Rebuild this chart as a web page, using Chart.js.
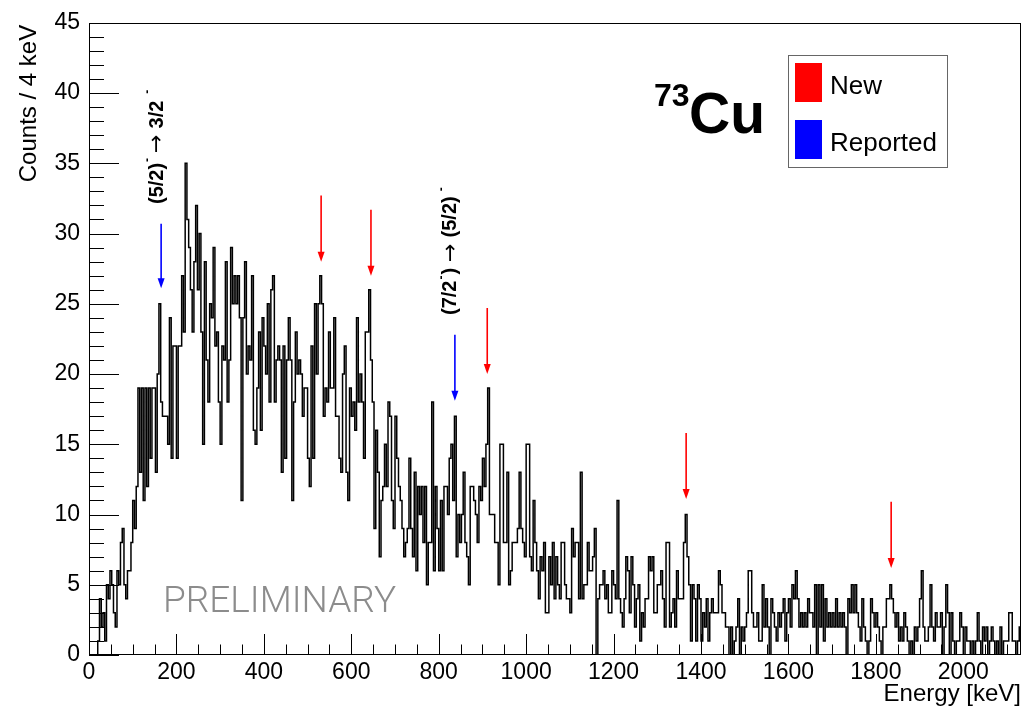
<!DOCTYPE html>
<html>
<head>
<meta charset="utf-8">
<script src="https://cdn.jsdelivr.net/npm/chart.js@4.4.1/dist/chart.umd.min.js"></script>
<style>
  html, body { margin: 0; padding: 0; background: #ffffff; }
  #wrap { width: 1024px; height: 709px; }
</style>
</head>
<body>
<div id="wrap"><canvas id="c" width="1024" height="709"></canvas></div>
<script>
// ---------- DATA ----------
const BIN_WIDTH = 4; // keV per bin
// counts per 4 keV bin, split by energy range (bin low edges)
const counts_0000_0268 = [
  0,0,0,0,0,1,
  4,2,3,1,5,4,6,5,3,2,
  6,5,8,9,5,4,6,6,8,11,
  9,12,19,13,19,11,19,12,19,14,
  19,19,13,20,25,18,17,17,17,15,
  24,14,22,22,14,22,22,27,23,35,
  31,29,26,23,28,32,26,30,23,15,
  28,21
];
const counts_0272_0524 = [
  18,25,24,29,22,23,18,15,22,21,
  28,18,21,29,25,27,25,27,24,11,
  24,28,20,22,21,27,16,15,19,23,
  16,24,22,20,25,18,26,27,18,21,
  22,21,13,22,14,21,24,21,11,18,
  23,20,21,20,17,19,19,14,12,22,
  14,25,20,25
];
const counts_0528_0784 = [
  27,25,17,19,18,23,19,19,24,17,
  17,14,13,20,22,13,11,19,17,18,
  16,24,18,20,18,14,23,23,26,21,
  18,9,16,13,7,11,12,15,12,18,
  17,11,9,17,14,12,11,9,7,8,
  9,14,9,7,13,6,12,10,12,8,
  12,5,8,8,18
];
const counts_0788_1060 = [
  6,12,9,6,11,6,12,12,10,14,
  15,11,17,7,10,8,10,13,8,7,
  5,12,12,11,10,8,12,11,14,12,
  15,19,10,10,10,8,8,5,15,15,
  8,8,13,5,6,8,8,8,9,13,
  9,8,7,15,15,7,6,11,8,6,
  4,7,6,8,3,3,7,5,8
];
const counts_1064_1320 = [
  4,7,5,4,8,8,5,4,4,3,
  9,7,8,8,4,13,4,5,5,8,
  6,6,7,9,0,4,5,5,6,4,
  5,3,3,6,5,4,11,4,3,2,
  4,7,6,3,7,5,2,4,5,1,
  3,2,4,4,7,6,7,3,3,5,
  5,6,4,2,8
];
const counts_1324_1584 = [
  8,2,3,4,2,6,4,4,4,8,
  10,7,5,1,5,4,1,5,4,1,
  3,2,4,1,3,4,3,3,3,6,
  5,3,3,2,2,0,2,0,1,2,
  4,0,2,1,2,3,6,6,3,2,
  2,3,1,1,5,2,4,2,0,4,
  3,2,1,3,2,3
];
const counts_1588_1848 = [
  4,1,3,4,2,5,4,6,4,2,
  3,2,3,2,4,3,3,2,5,0,
  5,2,5,1,4,2,3,2,3,2,
  4,2,3,2,3,2,0,4,3,5,
  3,5,3,2,1,4,2,1,0,1,
  4,3,2,3,2,1,0,2,2,4,
  4,5,4,3,2,3
];
const counts_1852_2128 = [
  1,2,1,3,2,1,0,1,0,2,
  1,2,4,6,2,1,1,2,5,2,
  1,3,2,2,3,0,2,5,3,0,
  3,1,0,1,1,3,2,0,2,1,
  1,0,1,0,1,3,1,0,2,1,
  2,0,1,2,1,0,1,0,2,0,
  1,1,1,3,3,1,1,0,1,2
];

const xTickValues = [0,200,400,600,800,1000,1200,1400,1600,1800,2000];
const yTickValues = [0,5,10,15,20,25,30,35,40,45];
const X_MAX = 2132, Y_MAX = 45;

// annotation arrows: energy (keV), arrow top and tip (counts), kind
const arrowEnergy = [165, 531, 645, 837, 911, 1366, 1835];
const arrowTop    = [30.7, 32.7, 31.7, 22.8, 24.7, 15.8, 10.9];
const arrowTip    = [26.1, 28.0, 27.0, 18.1, 20.0, 11.1, 6.2];
const arrowKind   = ['Reported','New','New','Reported','New','New','New'];
const kindColor   = { New: '#ff0000', Reported: '#0000ff' };
const legendLabels = ['New', 'Reported'];

// ---------- BUILD ----------
const counts = [].concat(counts_0000_0268, counts_0272_0524, counts_0528_0784,
  counts_0788_1060, counts_1064_1320, counts_1324_1584, counts_1588_1848, counts_1852_2128);
const points = counts.map((c, i) => ({ x: i * BIN_WIDTH, y: c }));
points.push({ x: counts.length * BIN_WIDTH, y: counts[counts.length - 1] });

const FONT = '"Liberation Sans", Arial, Helvetica, sans-serif';

function richRotated(ctx, x, y, segs) {
  ctx.save();
  ctx.translate(x, y);
  ctx.rotate(-Math.PI / 2);
  ctx.textBaseline = 'middle';
  ctx.textAlign = 'left';
  let cx = 0;
  for (const s of segs) {
    ctx.font = s.font;
    ctx.fillStyle = '#000';
    ctx.fillText(s.t, cx, s.dy || 0);
    cx += ctx.measureText(s.t).width + (s.gap || 0);
  }
  ctx.restore();
}

const B20 = 'bold 20px ' + FONT;
const SUP = 'bold 12px ' + FONT;
const ARR = '22px "DejaVu Sans", ' + FONT;
const annotationLabels = [
  { arrow: 0, segs: [
    { t: '(5/2)', font: B20, gap: 1 }, { t: '-', font: SUP, dy: -9, gap: 5 },
    { t: '\u2192', font: ARR, gap: 6 },
    { t: '3/2', font: B20, gap: 7 }, { t: '-', font: SUP, dy: -9 } ] },
  { arrow: 3, segs: [
    { t: '(7/2', font: B20, gap: 1 }, { t: '-', font: SUP, dy: -9, gap: 1 }, { t: ')', font: B20, gap: 6 },
    { t: '\u2192', font: ARR, gap: 6 },
    { t: '(5/2)', font: B20, gap: 5 }, { t: '-', font: SUP, dy: -9 } ] }
];

const decor = {
  id: 'decor',
  afterDraw(chart) {
    const ctx = chart.ctx;
    const xs = chart.scales.x, ys = chart.scales.y;
    const a = chart.chartArea;
    ctx.save();
    // frame
    ctx.strokeStyle = '#000';
    ctx.lineWidth = 1;
    ctx.strokeRect(Math.round(a.left) + 0.5, Math.round(a.top) + 0.5,
                   Math.round(a.right - a.left) - 1, Math.round(a.bottom - a.top) - 1);
    // x ticks (inside)
    ctx.beginPath();
    for (let v = 0; v <= X_MAX; v += 50) {
      const px = Math.round(xs.getPixelForValue(v)) + 0.5;
      const len = (v % 200 === 0) ? 21 : 10.5;
      ctx.moveTo(px, a.bottom); ctx.lineTo(px, a.bottom - len);
    }
    // y ticks (inside)
    for (let v = 0; v <= Y_MAX; v += 1) {
      const py = Math.round(ys.getPixelForValue(v)) + 0.5;
      const len = (v % 5 === 0) ? 30 : 15;
      ctx.moveTo(a.left, py); ctx.lineTo(a.left + len, py);
    }
    ctx.stroke();

    // axis titles
    ctx.fillStyle = '#000';
    ctx.font = '24px ' + FONT;
    ctx.textAlign = 'right';
    ctx.textBaseline = 'alphabetic';
    ctx.fillText('Energy [keV]', a.right, 701);
    ctx.save();
    ctx.translate(36, a.top + 2);
    ctx.rotate(-Math.PI / 2);
    ctx.textAlign = 'right';
    ctx.fillText('Counts / 4 keV', 0, 0);
    ctx.restore();

    // arrows
    for (let i = 0; i < arrowEnergy.length; i++) {
      const px = xs.getPixelForValue(arrowEnergy[i]);
      const pTop = ys.getPixelForValue(arrowTop[i]);
      const pTip = ys.getPixelForValue(arrowTip[i]);
      const col = kindColor[arrowKind[i]];
      ctx.strokeStyle = col; ctx.fillStyle = col; ctx.lineWidth = 1.6;
      ctx.beginPath(); ctx.moveTo(px, pTop); ctx.lineTo(px, pTip - 8); ctx.stroke();
      ctx.beginPath();
      ctx.moveTo(px - 3.5, pTip - 10); ctx.lineTo(px + 3.5, pTip - 10); ctx.lineTo(px, pTip);
      ctx.closePath(); ctx.fill();
    }
    // transition labels
    for (const lab of annotationLabels) {
      const px = xs.getPixelForValue(arrowEnergy[lab.arrow]) - 4;
      const py = ys.getPixelForValue(arrowTop[lab.arrow] + 1.4);
      richRotated(ctx, px, py, lab.segs);
    }

    // 73Cu
    ctx.fillStyle = '#000';
    ctx.textAlign = 'left';
    ctx.textBaseline = 'alphabetic';
    ctx.font = 'bold 32px ' + FONT;
    ctx.fillText('73', 654, 106);
    ctx.font = 'bold 57px ' + FONT;
    ctx.fillText('Cu', 689, 133);

    // legend
    ctx.fillStyle = '#fff';
    ctx.fillRect(788, 55, 159, 112);
    ctx.strokeStyle = '#666'; ctx.lineWidth = 1;
    ctx.strokeRect(788.5, 55.5, 159, 112);
    const lgY = [63, 120];
    legendLabels.forEach((lab, k) => {
      ctx.fillStyle = kindColor[lab];
      ctx.fillRect(795, lgY[k], 27, 39);
      ctx.fillStyle = '#000';
      ctx.font = '26px ' + FONT;
      ctx.textBaseline = 'middle';
      ctx.fillText(lab, 830, lgY[k] + 24);
    });

    // PRELIMINARY
    ctx.fillStyle = '#8c8c8c';
    ctx.font = '300 37px Roboto, "Open Sans", sans-serif';
    ctx.textBaseline = 'alphabetic';
    ctx.textAlign = 'left';
    ctx.fillText('PRELIMINARY', 163, 612);
    ctx.restore();
  }
};

new Chart(document.getElementById('c'), {
  type: 'line',
  data: {
    datasets: [{
      data: points,
      stepped: true,
      borderColor: '#000',
      borderWidth: 1.5,
      pointRadius: 0,
      fill: false,
      tension: 0
    }]
  },
  options: {
    responsive: false,
    animation: false,
    devicePixelRatio: 1,
    layout: { padding: { left: 0, right: 3, top: 13, bottom: 0 } },
    plugins: { legend: { display: false }, tooltip: { enabled: false } },
    scales: {
      x: {
        type: 'linear', min: 0, max: X_MAX,
        grid: { display: false, drawTicks: false },
        border: { display: false },
        afterBuildTicks: s => { s.ticks = xTickValues.map(v => ({ value: v })); },
        afterFit: s => { s.height = 54; },
        ticks: { autoSkip: false, maxRotation: 0, color: '#000', padding: 4,
                 callback: v => String(v),
                 font: { family: FONT, size: 23 } }
      },
      y: {
        type: 'linear', min: 0, max: Y_MAX,
        grid: { display: false, drawTicks: false },
        border: { display: false },
        afterBuildTicks: s => { s.ticks = yTickValues.map(v => ({ value: v })); },
        afterFit: s => { s.width = 89; },
        ticks: { autoSkip: false, color: '#000', padding: 9,
                 callback: v => String(v),
                 font: { family: FONT, size: 23 } }
      }
    }
  },
  plugins: [decor]
});
</script>
</body>
</html>
